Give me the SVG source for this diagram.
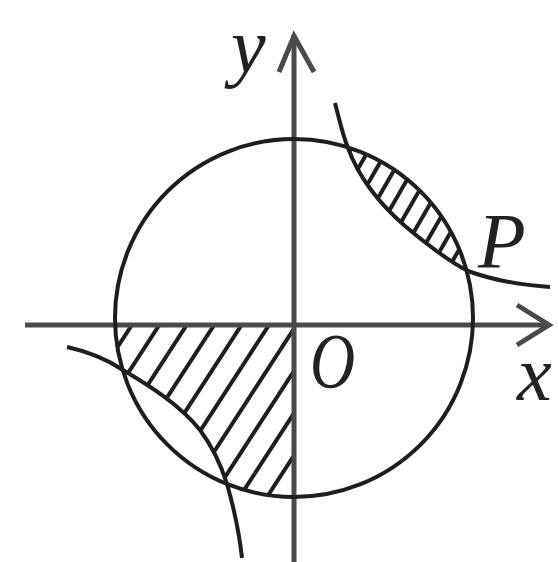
<svg xmlns="http://www.w3.org/2000/svg" width="558" height="562" viewBox="0 0 558 562">
<style>
.ax{stroke:#4a4a4a;stroke-width:5;fill:none}
.ln{stroke:#1e1e1e;stroke-width:4;fill:none}
.lbl{font-family:"Liberation Serif",serif;font-style:italic;font-size:78px;fill:#222}
</style>
<defs>
<pattern id="h1" patternUnits="userSpaceOnUse" width="23" height="40" patternTransform="translate(294,325) rotate(33)">
<line x1="2" y1="-5" x2="2" y2="45" stroke="#1e1e1e" stroke-width="4"/>
</pattern>
<pattern id="h2" patternUnits="userSpaceOnUse" width="16" height="40" patternTransform="translate(400,220) rotate(30)">
<line x1="2" y1="-5" x2="2" y2="45" stroke="#1e1e1e" stroke-width="4"/>
</pattern>
</defs>
<rect width="558" height="562" fill="#fff"/>
<g id="hatch">
<path d="M115,325 L294,325 L294,497 A179,179 0 0,1 227,484 C221,465 212,446 200,430 C180,405 150,386 123,370 A179,179 0 0,1 115,325 Z" fill="url(#h1)"/>
<path d="M348,148 C358,175 375,200 405,226 C430,247 450,262 468,271 A179,179 0 0,0 348,148 Z" fill="url(#h2)"/>
</g>
<g id="connectors">
<line class="ax" x1="25" y1="325" x2="549" y2="325"/>
<polyline class="ax" points="517,305 549,325 517,345"/>
<line class="ax" x1="294" y1="562" x2="294" y2="35"/>
<polyline class="ax" points="279,72 294,36 314,72"/>
<circle class="ln" cx="294" cy="318" r="179"/>
<path class="ln" d="M335,103 C339,118 342,133 348,148 C358,175 375,200 405,226 C430,247 450,262 468,271 C495,281 520,285 550,287"/>
<path class="ln" d="M67,347 C90,352 108,360 123,370 C150,386 180,405 200,430 C212,446 221,465 227,484 C233,505 239,530 242,558"/>
</g>
<g id="labels">
<text class="lbl" x="231" y="72">y</text>
<text class="lbl" x="478" y="267">P</text>
<text class="lbl" transform="translate(310,387) scale(0.8,1)">O</text>
<text class="lbl" x="517" y="400">x</text>
</g>
</svg>
